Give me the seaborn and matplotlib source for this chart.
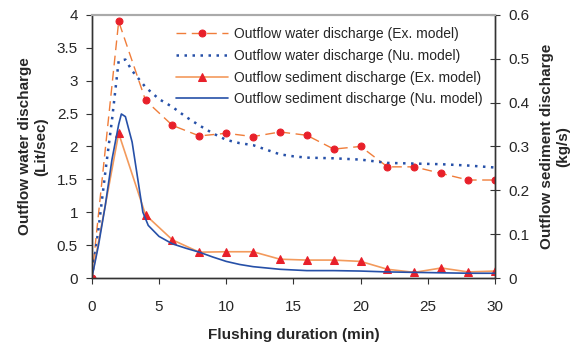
import numpy as np
import pandas as pd
import matplotlib
matplotlib.use('Agg')
import matplotlib.pyplot as plt
import seaborn as sns
from matplotlib.ticker import FuncFormatter

sns.set_style('ticks')
plt.rcParams['font.family'] = ['Liberation Sans', 'DejaVu Sans']

# Outflow water discharge, experimental model (Lit/sec)
water_ex_t = [0, 2, 4, 6, 8, 10, 12, 14, 16, 18, 20, 22, 24, 26, 28, 30]
water_ex_q = [0, 3.9, 2.7, 2.32, 2.16, 2.2, 2.15, 2.22, 2.17, 1.96, 2.0, 1.69, 1.69, 1.59, 1.49, 1.49]

# Outflow water discharge, numerical model (Lit/sec)
water_nu_t = [0, 0.5, 1, 1.5, 2, 2.5, 3, 4, 5, 6, 7, 8, 9, 10, 11, 12, 13, 14, 15, 16,
              18, 20, 22, 24, 26, 28, 30]
water_nu_q = [0, 0.75, 1.6, 2.4, 3.3, 3.32, 3.15, 2.9, 2.72, 2.6, 2.45, 2.32, 2.2, 2.1,
              2.05, 2.02, 1.95, 1.88, 1.85, 1.83, 1.82, 1.8, 1.75, 1.74, 1.73, 1.71, 1.68]

# Outflow sediment discharge, experimental model (kg/s)
sed_ex_t = [0, 2, 4, 6, 8, 10, 12, 14, 16, 18, 20, 22, 24, 26, 28, 30]
sed_ex_q = [0, 0.33, 0.144, 0.087, 0.059, 0.06, 0.06, 0.043, 0.041, 0.041, 0.038,
            0.02, 0.013, 0.023, 0.014, 0.016]

# Outflow sediment discharge, numerical model (kg/s)
sed_nu_t = [0, 0.5, 1, 1.5, 2, 2.2, 2.5, 3, 3.8, 4.2, 5, 6, 7, 8, 9, 10, 11, 12, 14,
            16, 18, 20, 22, 24, 26, 28, 30]
sed_nu_q = [0, 0.075, 0.165, 0.27, 0.35, 0.374, 0.368, 0.31, 0.15, 0.12, 0.095, 0.078,
            0.068, 0.059, 0.048, 0.038, 0.031, 0.026, 0.02, 0.017, 0.017, 0.016, 0.014,
            0.013, 0.012, 0.011, 0.011]

orange = '#f07d3a'
orange_light = '#f39a5c'
red = '#e8202a'
blue = '#2650a8'

fig = plt.figure(figsize=(5.81, 3.45), dpi=100)
ax = fig.add_axes([0.158, 0.194, 0.694, 0.763])
ax2 = ax.twinx()

sns.lineplot(x=water_ex_t, y=water_ex_q, ax=ax, color=orange, linewidth=1,
             linestyle=(0, (7, 4)), marker='o', markersize=5,
             markerfacecolor=red, markeredgecolor=red,
             label='Outflow water discharge (Ex. model)', legend=False)
sns.lineplot(x=water_nu_t, y=water_nu_q, ax=ax, color=blue, linewidth=1.8,
             linestyle=(0, (1, 2.2)), label='Outflow water discharge (Nu. model)',
             legend=False)
sns.lineplot(x=sed_ex_t, y=sed_ex_q, ax=ax2, color=orange_light, linewidth=1.2,
             marker='^', markersize=6, markerfacecolor=red, markeredgecolor=red,
             label='Outflow sediment discharge (Ex. model)', legend=False)
sns.lineplot(x=sed_nu_t, y=sed_nu_q, ax=ax2, color=blue, linewidth=1.2,
             label='Outflow sediment discharge (Nu. model)', legend=False)

ax.set_xlim(0, 30)
ax.set_ylim(0, 4)
ax2.set_ylim(0, 0.6)
ax.set_xticks(range(0, 31, 5))
ax.set_yticks(np.arange(0, 4.01, 0.5))
ax2.set_yticks(np.arange(0, 0.61, 0.1))
fmt = FuncFormatter(lambda v, p: f'{v:g}')
ax.yaxis.set_major_formatter(fmt)
ax2.yaxis.set_major_formatter(fmt)

ax.tick_params(labelsize=11, direction='out', length=4, color='#333333')
ax.tick_params(axis='x', pad=12)
ax.tick_params(axis='y', pad=6)
ax2.tick_params(labelsize=11, direction='inout', length=7, color='#333333', pad=6)

for a in (ax, ax2):
    for side in ('left', 'right', 'bottom'):
        a.spines[side].set_color('#333333')
        a.spines[side].set_linewidth(1)
    a.spines['top'].set_visible(True)
    a.spines['top'].set_color('#aaaaaa')
    a.spines['top'].set_linewidth(1.5)

ax.set_xlabel('Flushing duration (min)', fontsize=11, fontweight='bold', labelpad=10)
ax.set_ylabel('Outflow water discharge\n(Lit/sec)', fontsize=11, fontweight='bold',
              labelpad=6)
ax2.set_ylabel('Outflow sediment discharge\n(kg/s)', fontsize=11, fontweight='bold',
               labelpad=8)

h1, l1 = ax.get_legend_handles_labels()
h2, l2 = ax2.get_legend_handles_labels()
ax2.legend(h1 + h2, l1 + l2, loc='upper right', bbox_to_anchor=(1.0, 1.0),
           frameon=False, fontsize=10, handlelength=3.8, labelspacing=0.55,
           handletextpad=0.4)

fig.savefig('out.png', dpi=100)
